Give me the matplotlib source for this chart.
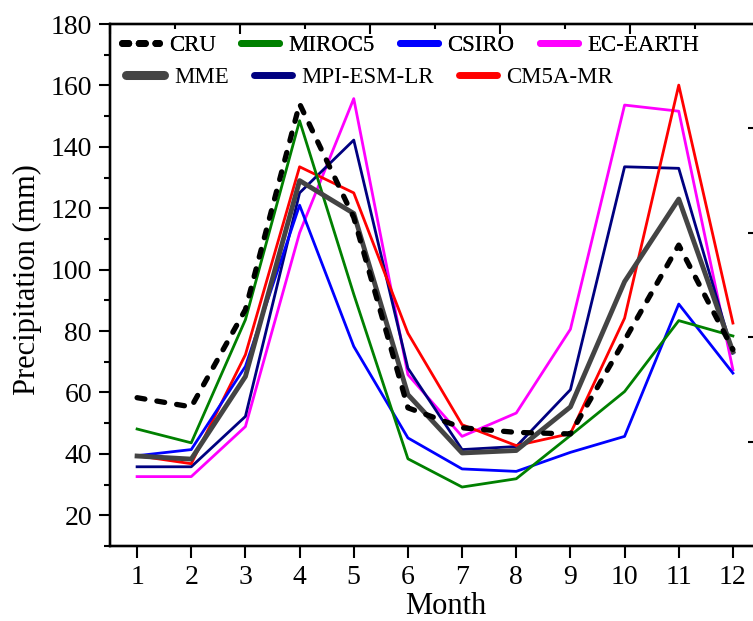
import matplotlib
matplotlib.use("Agg")
import matplotlib.pyplot as plt
from matplotlib.lines import Line2D
from matplotlib.ticker import MultipleLocator, NullFormatter

plt.rcParams['font.family'] = ['Liberation Serif', 'DejaVu Serif']

months = list(range(1, 13))
cru = [58.3, 55.3, 87.0, 154.0, 117.0, 55.0, 48.5, 47.0, 46.5, 77.0, 108.0, 74.0]
miroc5 = [48.1, 43.6, 83.7, 148.5, 92.0, 38.4, 29.2, 31.9, 46.0, 60.3, 83.4, 78.4]
csiro = [39.4, 41.4, 68.5, 121.0, 75.0, 45.2, 35.1, 34.3, 40.5, 45.7, 88.8, 66.3]
ec_earth = [32.6, 32.6, 48.9, 112.0, 155.7, 65.8, 45.7, 53.3, 80.6, 153.6, 151.6, 67.4]
mme = [39.3, 38.3, 65.2, 129.0, 118.3, 59.3, 40.3, 41.1, 55.3, 96.1, 123.0, 73.3]
mpi_esm_lr = [35.8, 35.8, 52.2, 125.0, 142.2, 67.9, 41.4, 42.4, 60.9, 133.5, 133.0, 72.8]
cm5a_mr = [39.4, 36.8, 72.3, 133.5, 125.0, 79.3, 49.5, 42.7, 46.6, 84.2, 160.1, 82.6]

W, H = 753, 621
fig = plt.figure(figsize=(W / 100, H / 100), dpi=100)
ax = fig.add_axes([110 / W, 75 / H, 650 / W, 522 / H])

thin = 2.0
ax.plot(months, ec_earth, color='#FF00FF', lw=thin, zorder=2)
ax.plot(months, mpi_esm_lr, color='#000080', lw=thin, zorder=2)
ax.plot(months, cm5a_mr, color='#FF0000', lw=thin, zorder=2)
ax.plot(months, csiro, color='#0000FF', lw=thin, zorder=2)
ax.plot(months, miroc5, color='#008000', lw=thin, zorder=2)
ax.plot(months, mme, color='#444444', lw=3.5, zorder=3)
ax.plot(months, cru, color='black', lw=3.8, dashes=(1.5, 2.3),
        dash_capstyle='round', zorder=4)

ax.set_xlim(0.5, 12.5)
ax.set_ylim(10, 180)
ax.set_xticks(months)
ax.set_yticks(range(20, 181, 20))
ax.yaxis.set_minor_locator(MultipleLocator(10))

for s in ax.spines.values():
    s.set_linewidth(1.6)

ax.tick_params(axis='x', which='major', direction='out', length=8.5, width=1.5,
               labelsize=20, pad=5, top=False)
ax.tick_params(axis='y', which='major', direction='out', length=8, width=1.5,
               labelsize=20, pad=5, right=False)
ax.tick_params(axis='y', which='minor', direction='out', length=4.3, width=1.5,
               right=False)

ax.set_xlabel('Month', fontsize=22)
ax.set_ylabel('Precipitation (mm)', fontsize=22)
ax.xaxis.set_label_coords(0.517, -0.089)
ax.yaxis.set_label_coords(-0.105, 0.51)

# secondary frame ticks on top and right
axt = ax.twiny()
axt.set_xlim(0, 5)
axt.xaxis.set_major_locator(MultipleLocator(1))
axt.xaxis.set_minor_locator(MultipleLocator(0.5))
axt.xaxis.set_major_formatter(NullFormatter())
axt.tick_params(axis='x', which='major', direction='in', length=7, width=1.5,
                top=True, bottom=False, labeltop=False, labelbottom=False)
axt.tick_params(axis='x', which='minor', direction='in', length=3.5, width=1.5,
                top=True, bottom=False)
axt.tick_params(axis='y', left=False, right=False, labelleft=False, labelright=False)
for s in axt.spines.values():
    s.set_linewidth(1.6)

axr = ax.twinx()
axr.set_ylim(0, 5)
axr.set_yticks([1, 2, 3, 4])
axr.yaxis.set_major_formatter(NullFormatter())
axr.tick_params(axis='y', which='major', direction='in', length=8.5, width=1.5,
                right=True, left=False)
for s in axr.spines.values():
    s.set_linewidth(1.6)

# legend, drawn as two rows
def handle(color, lw, **kw):
    return Line2D([], [], color=color, lw=lw, solid_capstyle='round', **kw)

row1 = [handle('black', 5.0, dashes=(0.9, 1.5), dash_capstyle='round'),
        handle('#008000', 5.0), handle('#0000FF', 5.0), handle('#FF00FF', 5.0)]
row1_labels = ['CRU', 'MIROC5', 'CSIRO', 'EC-EARTH']
row2 = [handle('#444444', 6.5), handle('#000080', 5.0), handle('#FF0000', 5.0)]
row2_labels = ['MME', 'MPI-ESM-LR', 'CM5A-MR']

leg_kw = dict(frameon=False, prop={'family': 'Liberation Serif', 'size': 16.5},
              borderpad=0, borderaxespad=0,
              handlelength=1.65, handletextpad=0.42, columnspacing=1.1,
              loc='center left', bbox_transform=fig.transFigure)
leg1 = ax.legend(row1, row1_labels, ncol=4,
                 bbox_to_anchor=(121.5 / W, (H - 45.5) / H), **leg_kw)
ax.add_artist(leg1)
leg2 = axr.legend(row2, row2_labels, ncol=3,
                  bbox_to_anchor=(126.5 / W, (H - 77.5) / H), **leg_kw)

fig.savefig('out.png', dpi=100)
